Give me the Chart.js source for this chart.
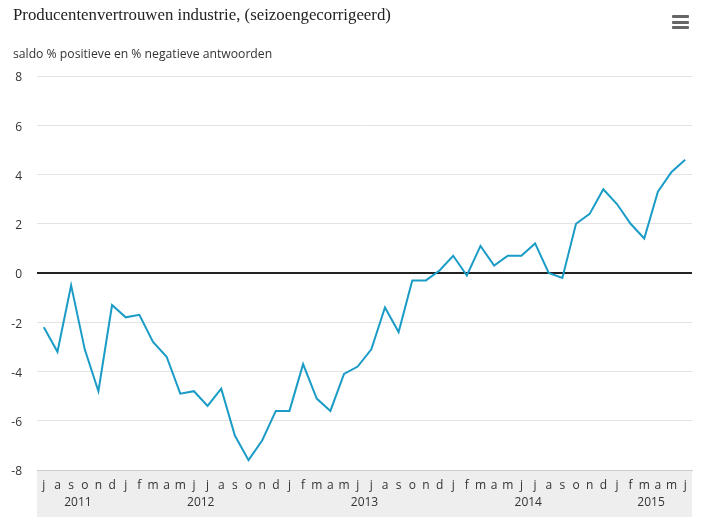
<!DOCTYPE html>
<html>
<head>
<meta charset="utf-8">
<script src="https://cdn.jsdelivr.net/npm/chart.js@4/dist/chart.umd.min.js"></script>
<style>
  html, body { margin: 0; padding: 0; background: #fff; }
  #wrap { position: relative; width: 715px; height: 528px; }
  #title { position: absolute; left: 13px; top: 5px; font: 16.8px "Liberation Serif", serif; color: #222; white-space: nowrap; }
  #subtitle { position: absolute; left: 13px; top: 45px; font: 12.2px "Open Sans", sans-serif; color: #333; white-space: nowrap; }
  #menu { position: absolute; left: 672px; top: 15px; width: 17px; }
  #menu div { height: 3px; background: #666; margin-bottom: 2.5px; border-radius: 1px; }
  canvas { position: absolute; left: 0; top: 0; }
</style>
</head>
<body>
<div id="wrap">
  <canvas id="chart" width="715" height="528"></canvas>
  <div id="title">Producentenvertrouwen industrie, (seizoengecorrigeerd)</div>
  <div id="subtitle">saldo % positieve en % negatieve antwoorden</div>
  <div id="menu"><div></div><div></div><div></div></div>
</div>
<script>
  // months jul 2011 - jun 2015
  const monthLetters = ["j", "a", "s", "o", "n", "d",
    "j", "f", "m", "a", "m", "j", "j", "a", "s", "o", "n", "d",
    "j", "f", "m", "a", "m", "j", "j", "a", "s", "o", "n", "d",
    "j", "f", "m", "a", "m", "j", "j", "a", "s", "o", "n", "d",
    "j", "f", "m", "a", "m", "j"];
  const years = ["2011", "2012", "2013", "2014", "2015"];
  const monthsPerYear = [6, 12, 12, 12, 6];
  const saldo = [
    -2.2, -3.2, -0.5, -3.1, -4.8, -1.3,
    -1.8, -1.7, -2.8, -3.4, -4.9, -4.8, -5.4, -4.7, -6.6, -7.6, -6.8, -5.6,
    -5.6, -3.7, -5.1, -5.6, -4.1, -3.8, -3.1, -1.4, -2.4, -0.3, -0.3, 0.1,
    0.7, -0.1, 1.1, 0.3, 0.7, 0.7, 1.2, 0.0, -0.2, 2.0, 2.4, 3.4,
    2.8, 2.0, 1.4, 3.3, 4.1, 4.6
  ];

  const labels = monthLetters.map((m, i) => i + "");

  // grey band under the plot + year labels
  const axisBand = {
    id: "axisBand",
    beforeDraw(chart) {
      const { ctx, chartArea } = chart;
      ctx.save();
      ctx.fillStyle = "#eeeeee";
      ctx.fillRect(chartArea.left, chartArea.bottom, chartArea.right - chartArea.left, 47);
      ctx.restore();
    },
    afterDraw(chart) {
      const { ctx } = chart;
      const x = chart.scales.x;
      ctx.save();
      ctx.fillStyle = "#333";
      ctx.font = "12px 'Open Sans', sans-serif";
      ctx.textAlign = "center";
      ctx.textBaseline = "middle";
      let start = 0;
      years.forEach((y, i) => {
        const end = start + monthsPerYear[i] - 1;
        const px = (x.getPixelForValue(start) + x.getPixelForValue(end)) / 2;
        ctx.fillText(y, px, chart.chartArea.bottom + 33);
        start = end + 1;
      });
      ctx.restore();
    }
  };

  new Chart(document.getElementById("chart"), {
    type: "line",
    data: {
      labels: labels,
      datasets: [
        {
          label: "Producentenvertrouwen",
          data: saldo,
          borderColor: "#1a9cc6",
          borderWidth: 2,
          pointRadius: 0,
          tension: 0,
          fill: false,
        },
      ],
    },
    options: {
      responsive: false,
      animation: false,
      layout: { padding: { top: 76, left: 0, right: 23, bottom: 0 } },
      plugins: {
        legend: { display: false },
        tooltip: { enabled: false },
      },
      scales: {
        x: {
          offset: true,
          afterFit: (s) => { s.height = 58; },
          grid: { display: false },
          border: { color: "#cccccc", width: 1 },
          ticks: {
            autoSkip: false,
            maxRotation: 0,
            padding: 0,
            color: "#333",
            font: { family: "'Open Sans', sans-serif", size: 12 },
            callback: (v, i) => monthLetters[i],
          },
        },
        y: {
          min: -8,
          max: 8,
          afterFit: (s) => { s.width = 37; },
          border: { display: false },
          grid: {
            drawTicks: false,
            color: (c) => (c.tick && c.tick.value === 0 ? "#222" : "#e3e3e3"),
            lineWidth: (c) => (c.tick && c.tick.value === 0 ? 2 : 1),
          },
          ticks: {
            stepSize: 2,
            padding: 15,
            labelOffset: 2,
            color: "#333",
            font: { family: "'Open Sans', sans-serif", size: 12 },
          },
        },
      },
    },
    plugins: [axisBand],
  });
</script>
</body>
</html>
